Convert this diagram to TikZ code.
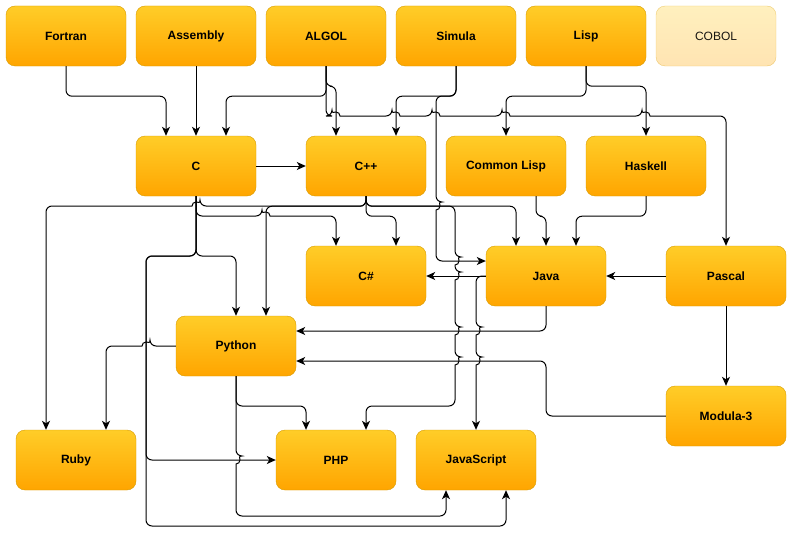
\documentclass[tikz,border=0pt]{standalone}
\usepackage{fontspec}
\setmainfont{Liberation Sans}
\usetikzlibrary{arrows.meta}

\definecolor{langtop}{HTML}{FFCD28}
\definecolor{langbot}{HTML}{FFA500}
\definecolor{langline}{HTML}{D79B00}

\begin{document}
\begin{tikzpicture}[x=1pt,y=-1pt,
  lang/.style={draw=langline,top color=langtop,bottom color=langbot,rounded corners=9pt,
    minimum width=120pt,minimum height=60pt,inner sep=0pt,text=black,
    font=\fontsize{12}{14}\selectfont\bfseries},
  faded/.style={lang,draw opacity=0.45,fill opacity=0.3,text opacity=0.9,
    font=\fontsize{12}{14}\selectfont},
  link/.style={line width=1pt,rounded corners=6pt,-{Stealth[length=9pt,width=8pt,inset=2.5pt]}},
  hopr/.style={insert path={[sharp corners] arc[start angle=180,end angle=360,radius=4] [rounded corners=6pt]}},
  hopl/.style={insert path={[sharp corners] arc[start angle=0,end angle=-180,radius=4] [rounded corners=6pt]}},
  hopd/.style={insert path={[sharp corners] arc[start angle=-90,end angle=90,radius=4] [rounded corners=6pt]}}]

\path[use as bounding box] (0,0) rectangle (791,535);

\node[lang] (fortran) at (66,36) {Fortran};
\node[lang] (assembly) at (196,36) {Assembly};
\node[lang] (algol) at (326,36) {ALGOL};
\node[lang] (simula) at (456,36) {Simula};
\node[lang] (lisp) at (586,36) {Lisp};
\node[faded] (cobol) at (716,36) {COBOL};

\node[lang] (c) at (196,166) {C};
\node[lang] (cpp) at (366,166) {C++};
\node[lang] (clisp) at (506,166) {Common Lisp};
\node[lang] (haskell) at (646,166) {Haskell};

\node[lang] (csharp) at (366,276) {C\#};
\node[lang] (java) at (546,276) {Java};
\node[lang] (pascal) at (726,276) {Pascal};
\node[lang] (python) at (236,346) {Python};
\node[lang] (modula) at (726,416) {Modula-3};

\node[lang] (ruby) at (76,460) {Ruby};
\node[lang] (php) at (336,460) {PHP};
\node[lang] (js) at (476,460) {JavaScript};

\draw[link] (fortran.south) -- ++(0,30) -| ([xshift=-30pt]c.north);
\draw[link] (assembly) -- (c);
\draw[link] (algol.south) -- ++(0,30) -| ([xshift=30pt]c.north);
\draw[link] (algol.south) -- ++(0,20) -| ([xshift=-30pt]cpp.north);
\draw[link] (algol.south) -- (326,116) -- (332,116) [hopr] -- (392,116) [hopr]
  -- (432,116) [hopr] -- (502,116) [hopr] -- (642,116) [hopr] -| (pascal.north);
\draw[link] (simula.south) -- ++(0,30) -| ([xshift=30pt]cpp.north);
\draw[link] (simula.south) -- (456,96) -- (436,96) -- (436,202) [hopd]
  -- (436,261) -- ([yshift=15pt]java.west);
\draw[link] (lisp.south) -- ++(0,30) -| (clisp.north);
\draw[link] (lisp.south) -- ++(0,20) -| (haskell.north);

\draw[link] (c) -- (cpp);
\draw[link] (c.south) -- (196,216) -- (262,216) [hopr] -- (336,216) -- ([xshift=-30pt]csharp.north);
\draw[link] (c.south) -- (196,256) -- (236,256) -- (python.north);
\draw[link] (c.south) -- (196,256) -- (146,256) -- (146,460) -- (php.west);
\draw[link] (c.south) -- (196,256) -- (146,256) -- (146,526) -- (506,526) -- ([xshift=30pt]js.south);

\draw[link] (cpp.south) -- ++(0,10) -- (200,206) [hopl] -- (46,206) -- ([xshift=-30pt]ruby.north);
\draw[link] (cpp.south) -- ++(0,10) -| ([xshift=30pt]python.north);
\draw[link] (cpp.south) -- ++(0,20) -| ([xshift=30pt]csharp.north);
\draw[link] (cpp.south) -- ++(0,10) -| ([xshift=-30pt]java.north);
\draw[link] (cpp.south) -- ++(0,10) -- (455,206) -- (455,257) [hopd] -- (455,272) [hopd]
  -- (455,327) [hopd] -- (455,357) [hopd] -- (455,406) -- (366,406) -- ([xshift=30pt]php.north);

\draw[link] ([xshift=30pt]clisp.south) -- ++(0,20) -| (java.north);
\draw[link] (haskell.south) -- ++(0,20) -| ([xshift=30pt]java.north);

\draw[link] (java.west) -- (csharp.east);
\draw[link] (java.west) -- (476,276) -- (476,327) [hopd] -- (476,357) [hopd] -- (js.north);
\draw[link] (java.south) -- (546,331) -- ([yshift=15pt]python.east);
\draw[link] (pascal) -- (java);
\draw[link] (pascal) -- (modula);
\draw[link] (modula.west) -- (546,416) -- (546,361) -- ([yshift=-15pt]python.east);

\draw[link] (python.west) -- (150,346) [hopl] -- (106,346) -- ([xshift=30pt]ruby.north);
\draw[link] (python.south) -- (236,406) -- (306,406) -- ([xshift=-30pt]php.north);
\draw[link] (python.south) -- (236,456) [hopd] -- (236,516) -- (446,516) -- ([xshift=-30pt]js.south);

\end{tikzpicture}
\end{document}
